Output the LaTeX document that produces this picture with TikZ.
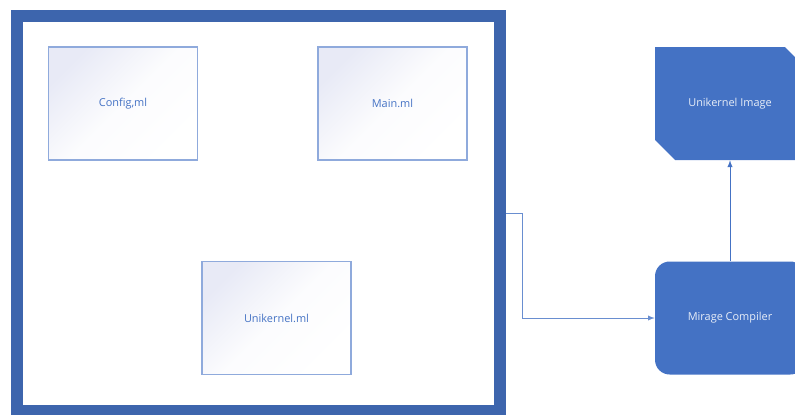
\documentclass[tikz,border=0pt]{standalone}
\usepackage{fontspec}
\setmainfont{Open Sans}
\usepackage{tikz}
\usetikzlibrary{positioning,shapes.misc}
\definecolor{MirBlue}{HTML}{4472C4}
\definecolor{MirFrame}{HTML}{3D65AD}
\definecolor{MirEdge}{HTML}{8FAADC}
\definecolor{MirLav}{HTML}{E8EAF6}
\definecolor{MirText}{HTML}{E8EEF8}

\begin{document}
\begin{tikzpicture}[>=latex,x=0.75pt,y=-0.75pt]
  \tikzstyle{src}=[draw=MirEdge,line width=1.1pt,top color=MirLav,bottom color=white,
    middle color=white!85!MirLav,shading angle=45,minimum width=111.75pt,minimum height=84.75pt,
    text=MirBlue,font=\fontsize{8.2}{10}\selectfont]
  \tikzstyle{blk}=[fill=MirBlue,minimum width=112.5pt,minimum height=84.75pt,
    text=MirText,font=\fontsize{8.2}{10}\selectfont]
  \clip (0,0) rectangle (795,414);
  \node[draw=MirFrame,line width=9pt,minimum width=362.6pt,minimum height=295.9pt] (frame) at (258.75,213.25) {};
  \node[src] (cfg) at (123,103.5) {Config,ml};
  \node[src] (main) at (392.5,103.5) {Main.ml};
  \node[src] (uni) at (276.5,318) {Unikernel.ml};
  \node[blk,rounded corners=11pt] (mir) at (730,318) {Mirage Compiler};
  \node[blk,chamfered rectangle,chamfered rectangle corners={north east,south west},
    chamfered rectangle xsep=11pt,chamfered rectangle ysep=11pt,inner sep=0pt] (img) at (730,103.5) {Unikernel Image};
  \draw[->,color=MirBlue!80,line width=0.75pt] (frame.east) -- ++(16,0) |- (mir.west);
  \draw[->,color=MirBlue,line width=0.75pt] (mir.north) -- (img.south);
\end{tikzpicture}
\end{document}
